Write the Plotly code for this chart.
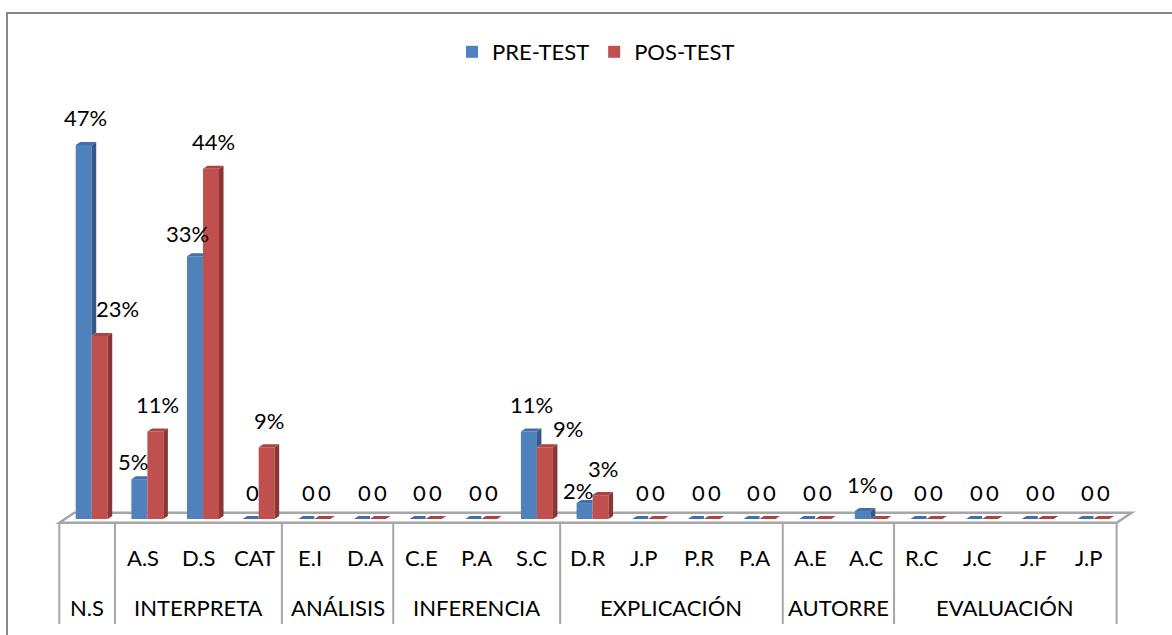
import plotly.graph_objects as go

# ---- data -------------------------------------------------------------
sub_labels = ["", "A.S", "D.S", "CAT", "E.I", "D.A", "C.E", "P.A", "S.C",
              "D.R", "J.P", "P.R", "P.A", "A.E", "A.C", "R.C", "J.C", "J.F", "J.P"]
group_names = ["N.S", "INTERPRETA", "ANÁLISIS", "INFERENCIA",
               "EXPLICACIÓN", "AUTORRE", "EVALUACIÓN"]
group_sizes = [1, 3, 2, 3, 4, 2, 4]

series_names = ["PRE-TEST", "POS-TEST"]
pre_test = [47, 5, 33, 0, 0, 0, 0, 0, 11, 2, 0, 0, 0, 0, 1, 0, 0, 0, 0]
pos_test = [23, 11, 44, 9, 0, 0, 0, 0, 9, 3, 0, 0, 0, 0, 0, 0, 0, 0, 0]

# ---- styling ----------------------------------------------------------
W, H = 1172, 635
FONT = "Lato"
FS = 22
TEXT_COLOR = "#000000"
GRID_COLOR = "#A6A6A6"
FRAME_COLOR = "#878787"

FRONT = ["#4F81BD", "#C0504D"]
TOP = ["#4470A8", "#A94643"]
SIDE = ["#355A88", "#8A3634"]

# pixel layout of the (full-figure) plotting area
X_LEFT_PX = 59.3      # front-left corner of the category band
CAT_PX = 55.65        # width of one category
BASE_PX = 519.0       # baseline of the columns
PCT_PX = 7.96         # pixels per percentage point


def px_x(px):
    return -0.5 + (px - X_LEFT_PX) / CAT_PX


def px_y(py):
    return (BASE_PX - py) / PCT_PX


BAR_W = 16.0 / CAT_PX   # front face width of a column
SHIFT = 4.6 / CAT_PX    # columns sit half-way back on the floor
DX = 4.5 / CAT_PX       # depth of a column (horizontal)
DY = 3.0 / PCT_PX       # depth of a column (vertical)

n = len(sub_labels)
idx = list(range(n))
series = [pre_test, pos_test]

fig = go.Figure()

# front faces
for s, vals in enumerate(series):
    fig.add_trace(go.Bar(
        x=idx, y=vals, name=series_names[s],
        width=BAR_W, offset=SHIFT - BAR_W if s == 0 else SHIFT,
        marker=dict(color=FRONT[s], line=dict(width=0)),
        hoverinfo="skip",
    ))


def add_poly(polys, color):
    xs, ys = [], []
    for p in polys:
        for (a, b) in p + [p[0]]:
            xs.append(a)
            ys.append(b)
        xs.append(None)
        ys.append(None)
    fig.add_trace(go.Scatter(
        x=xs, y=ys, mode="lines", fill="toself", fillcolor=color,
        line=dict(width=0, color=color), showlegend=False, hoverinfo="skip",
    ))


# side and top faces of the PRE-TEST columns (hidden where the POS-TEST column is in front)
side0, top0 = [], []
for i in idx:
    b, r = pre_test[i], pos_test[i]
    x0 = i + SHIFT - BAR_W
    x1 = i + SHIFT
    if b > r:
        side0.append([(x1, r), (x1, b), (x1 + DX, b + DY), (x1 + DX, r + DY)])
        top0.append([(x0, b), (x1, b), (x1 + DX, b + DY), (x0 + DX, b + DY)])
    else:
        top0.append([(x0, b), (x1, b), (x1, b + DY), (x0 + DX, b + DY)])
add_poly(side0, SIDE[0])
add_poly(top0, TOP[0])

# side and top faces of the POS-TEST columns
side1, top1 = [], []
for i in idx:
    r = pos_test[i]
    x0 = i + SHIFT
    x1 = i + SHIFT + BAR_W
    if r > 0:
        side1.append([(x1, 0), (x1, r), (x1 + DX, r + DY), (x1 + DX, DY)])
    top1.append([(x0, r), (x1, r), (x1 + DX, r + DY), (x0 + DX, r + DY)])
add_poly(side1, SIDE[1])
add_poly(top1, TOP[1])

# ---- data labels ------------------------------------------------------
# pixel nudges (dx, dy) for labels moved off their default spot
LABEL_NUDGE = {
    (0, 1): (-9, -9), (0, 2): (-10, -4), (0, 9): (-9, -14), (1, 8): (21, -8),
    (1, 0): (16, 0), (0, 14): (-3, 0), (1, 14): (5, 0),
}
annotations = []
for s, vals in enumerate(series):
    for i, v in enumerate(vals):
        cx = i + SHIFT + (-BAR_W / 2 if s == 0 else BAR_W / 2) + DX / 2
        nx, ny = LABEL_NUDGE.get((s, i), (0, 0))
        annotations.append(dict(
            x=cx, y=v, xref="x", yref="y", text=f"{v}%" if v else "0",
            showarrow=False, xanchor="center", yanchor="middle",
            xshift=nx, yshift=27 + ny,
            font=dict(family=FONT, size=FS, color=TEXT_COLOR),
        ))

# ---- category axis drawn as a table ----------------------------------
for i, lab in enumerate(sub_labels):
    if lab:
        annotations.append(dict(
            x=i, y=px_y(557), xref="x", yref="y", text=lab, showarrow=False,
            xanchor="center", yanchor="middle",
            font=dict(family=FONT, size=FS, color=TEXT_COLOR),
        ))

shapes = []
start = 0
bounds = [-0.5]
for g, size in zip(group_names, group_sizes):
    center = start + (size - 1) / 2
    annotations.append(dict(
        x=center, y=px_y(607), xref="x", yref="y", text=g, showarrow=False,
        xanchor="center", yanchor="middle",
        font=dict(family=FONT, size=FS, color=TEXT_COLOR),
    ))
    start += size
    bounds.append(start - 0.5)

FRONT_EDGE = px_y(522.7)
BACK_EDGE = px_y(512.7)
FLOOR_DX = 15.0 / CAT_PX
x_lo, x_hi = -0.5, n - 0.5

# floor
shapes.append(dict(
    type="path", xref="x", yref="y", layer="below",
    path=(f"M {x_lo},{FRONT_EDGE} L {x_lo + FLOOR_DX},{BACK_EDGE} "
          f"L {x_hi + FLOOR_DX},{BACK_EDGE} L {x_hi},{FRONT_EDGE} Z"),
    fillcolor="white", line=dict(color=GRID_COLOR, width=2.5),
))
# group dividers
for bx in bounds:
    shapes.append(dict(
        type="line", xref="x", yref="y", x0=bx, x1=bx,
        y0=FRONT_EDGE, y1=px_y(624), line=dict(color=GRID_COLOR, width=2),
    ))
# chart frame
shapes.append(dict(
    type="rect", xref="paper", yref="paper",
    x0=7 / W, x1=1.02, y0=-0.05, y1=1 - 13 / H,
    line=dict(color=FRAME_COLOR, width=2), fillcolor="rgba(0,0,0,0)", layer="below",
))

fig.update_layout(
    width=W, height=H,
    margin=dict(l=0, r=0, t=0, b=0),
    paper_bgcolor="white", plot_bgcolor="white",
    barmode="overlay",
    xaxis=dict(visible=False, range=[px_x(0), px_x(W)], fixedrange=True),
    yaxis=dict(visible=False, range=[px_y(H), px_y(0)], fixedrange=True),
    showlegend=True,
    legend=dict(
        orientation="h", x=452 / W, y=1 - 52 / H, xanchor="left", yanchor="middle",
        font=dict(family=FONT, size=FS, color=TEXT_COLOR),
        bgcolor="rgba(0,0,0,0)", itemclick=False, itemdoubleclick=False,
    ),
    annotations=annotations,
    shapes=shapes,
)

fig.write_html("out.html")
